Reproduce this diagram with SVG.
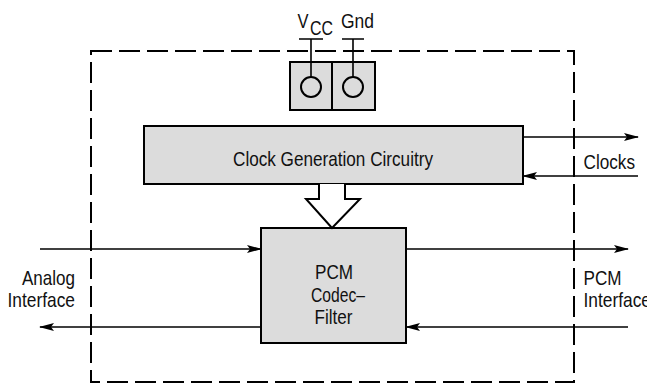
<svg xmlns="http://www.w3.org/2000/svg" width="647" height="384" viewBox="0 0 647 384">
<style>
.box{fill:#dcdcdc;stroke:#000;stroke-width:2}
.dash{fill:none;stroke:#000;stroke-width:2;stroke-dasharray:21 7}
.ln{fill:none;stroke:#000;stroke-width:1.6}
.t{font-family:"Liberation Sans",Arial,sans-serif;font-size:21px;fill:#111}
</style>
<defs>
<marker id="ah" viewBox="0 0 15 8" refX="14" refY="4" markerWidth="15" markerHeight="8" markerUnits="userSpaceOnUse" orient="auto">
<path d="M0,0 L15,4 L0,8 L3,4 z" fill="#000"/>
</marker>
</defs>
<rect width="647" height="384" fill="#fff"/>
<g id="boundary">
<path class="dash" d="M91,51 H574 V382 H91 Z"/>
</g>
<g id="power">
<rect class="box" x="290" y="62" width="42" height="48"/>
<rect class="box" x="332" y="62" width="43" height="48"/>
<circle class="box" cx="311" cy="87" r="10" stroke-width="1.6"/>
<circle class="box" cx="353" cy="87" r="10" stroke-width="1.6"/>
<path class="ln" d="M311,77 V39 M299,39 H323 M353,77 V39 M342,39 H364"/>
<text class="t" x="297.5" y="28" textLength="11" lengthAdjust="spacingAndGlyphs">V</text>
<text class="t" x="310" y="35" textLength="23" lengthAdjust="spacingAndGlyphs">CC</text>
<text class="t" x="341" y="28" textLength="33" lengthAdjust="spacingAndGlyphs">Gnd</text>
</g>
<g id="clockgen">
<rect class="box" x="144" y="126" width="379" height="58"/>
<text class="t" x="233" y="166" textLength="200" lengthAdjust="spacingAndGlyphs">Clock Generation Circuitry</text>
</g>
<g id="codec">
<rect class="box" x="261" y="228" width="145" height="115"/>
<text class="t" x="315" y="279" textLength="38" lengthAdjust="spacingAndGlyphs">PCM</text>
<text class="t" x="311" y="302" textLength="54" lengthAdjust="spacingAndGlyphs">Codec–</text>
<text class="t" x="314.5" y="324" textLength="38" lengthAdjust="spacingAndGlyphs">Filter</text>
</g>
<g id="labels">
<text class="t" x="22" y="285" textLength="53" lengthAdjust="spacingAndGlyphs">Analog</text>
<text class="t" x="7.5" y="307" textLength="67.5" lengthAdjust="spacingAndGlyphs">Interface</text>
<text class="t" x="583.5" y="285" textLength="38" lengthAdjust="spacingAndGlyphs">PCM</text>
<text class="t" x="583.5" y="307" textLength="67.5" lengthAdjust="spacingAndGlyphs">Interface</text>
<text class="t" x="583.5" y="169" textLength="51.5" lengthAdjust="spacingAndGlyphs">Clocks</text>
</g>
<g id="connectors">
<path d="M319,184 V199 H306 L332,228 L360,199 H345 V184" fill="#fff" stroke="#000" stroke-width="2"/>
<path class="ln" d="M523,137 H638" marker-end="url(#ah)"/>
<path class="ln" d="M638,176 H523" marker-end="url(#ah)"/>
<path class="ln" d="M40,249 H261" marker-end="url(#ah)"/>
<path class="ln" d="M261,327 H40" marker-end="url(#ah)"/>
<path class="ln" d="M406,249 H628" marker-end="url(#ah)"/>
<path class="ln" d="M628,327 H406" marker-end="url(#ah)"/>
</g>
</svg>
